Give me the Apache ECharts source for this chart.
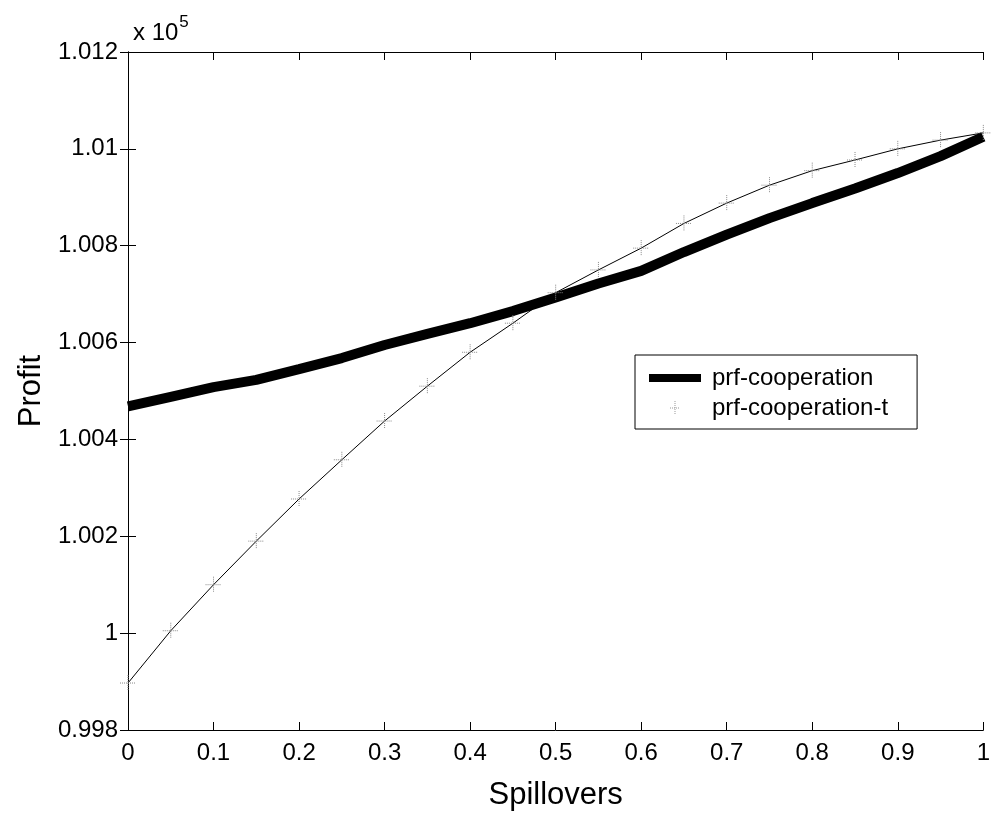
<!DOCTYPE html>
<html>
<head>
<meta charset="utf-8">
<script src="https://cdn.jsdelivr.net/npm/echarts@6/dist/echarts.min.js"></script>
<style>
html,body{margin:0;padding:0;background:#fff;}
#chart{width:993px;height:816px;}
</style>
</head>
<body>
<div id="chart"></div>
<script>
// Spillovers (x)
var spillovers = [0, 0.05, 0.1, 0.15, 0.2, 0.25, 0.3, 0.35, 0.4, 0.45, 0.5, 0.55, 0.6, 0.65, 0.7, 0.75, 0.8, 0.85, 0.9, 0.95, 1.0];
// Profit, in units of 1e5
var prfCooperation = [1.00468, 1.00488, 1.00508, 1.00523, 1.00545, 1.00568, 1.00595, 1.00618, 1.00640, 1.00665, 1.00693, 1.00722, 1.00748, 1.00787, 1.00823, 1.00857, 1.00888, 1.00918, 1.00950, 1.00985, 1.01025];
var prfCooperationT = [0.99897, 1.00005, 1.00100, 1.00190, 1.00277, 1.00358, 1.00438, 1.00510, 1.00580, 1.00640, 1.00703, 1.00750, 1.00795, 1.00846, 1.00888, 1.00925, 1.00955, 1.00977, 1.01000, 1.01018, 1.01033];
var seriesNames = ['prf-cooperation', 'prf-cooperation-t'];

function pairs(xs, ys) { return xs.map(function (x, i) { return [x, ys[i]]; }); }
var plusPath = 'path://M5,0 L5,10 M0,5 L10,5';
var font = 'Liberation Sans, Arial, sans-serif';

var chart = echarts.init(document.getElementById('chart'));
chart.setOption({
  animation: false,
  backgroundColor: '#fff',
  title: {
    text: '{a|x 10}{b|5}',
    left: 128, top: 6,
    textStyle: {
      rich: {
        a: { fontSize: 24, fontFamily: font, fontWeight: 'normal', color: '#000', padding: [10, 0, 0, 0] },
        b: { fontSize: 17, fontFamily: font, fontWeight: 'normal', color: '#000', verticalAlign: 'top', padding: [3, 0, 0, 1] }
      }
    }
  },
  grid: { left: 128, right: 3, top: 52, bottom: 83, containLabel: false },
  legend: {
    orient: 'vertical',
    left: 635, top: 355,
    backgroundColor: '#fff',
    borderColor: '#000', borderWidth: 1, borderRadius: 0,
    padding: [11, 29, 9, 14],
    itemWidth: 52, itemHeight: 14, itemGap: 6,
    textStyle: { fontSize: 24, fontFamily: font, color: '#000', padding: [0, 0, 0, 6] },
    data: [
      { name: seriesNames[0], icon: 'path://M0,0 L52,0 L52,8 L0,8 Z', itemStyle: { color: '#000' } },
      { name: seriesNames[1], icon: 'path://M25,0 L25,14 M20,7 L30,7', itemStyle: { color: 'transparent', borderColor: '#999', borderWidth: 1, borderType: 'dotted' } }
    ]
  },
  xAxis: [{
    type: 'value', min: 0, max: 1, interval: 0.1,
    name: 'Spillovers', nameLocation: 'middle', nameGap: 50,
    nameTextStyle: { fontSize: 31, fontFamily: font, color: '#000' },
    axisLine: { lineStyle: { color: '#000', width: 1 } },
    axisTick: { inside: true, length: 8, lineStyle: { color: '#000' } },
    axisLabel: { fontSize: 24, fontFamily: font, color: '#000', margin: 11,
      formatter: function (v) { return String(Number(v.toFixed(1))); } },
    splitLine: { show: false }
  }, {
    type: 'value', min: 0, max: 1, interval: 0.1, position: 'top',
    axisLine: { lineStyle: { color: '#000', width: 1 } },
    axisTick: { inside: true, length: 8, lineStyle: { color: '#000' } },
    axisLabel: { show: false }, splitLine: { show: false }
  }],
  yAxis: [{
    type: 'value', min: 0.998, max: 1.012, interval: 0.002,
    name: 'Profit', nameLocation: 'middle', nameGap: 73,
    nameTextStyle: { fontSize: 31, fontFamily: font, color: '#000' },
    axisLine: { lineStyle: { color: '#000', width: 1 } },
    axisTick: { inside: true, length: 8, lineStyle: { color: '#000' } },
    axisLabel: { fontSize: 24, fontFamily: font, color: '#000', margin: 10,
      formatter: function (v) { return String(Number(v.toFixed(3))); } },
    splitLine: { show: false }
  }, {
    type: 'value', min: 0.998, max: 1.012, interval: 0.002, position: 'right',
    axisLine: { lineStyle: { color: '#000', width: 1 } },
    axisTick: { inside: true, length: 8, lineStyle: { color: '#000' } },
    axisLabel: { show: false }, splitLine: { show: false }
  }],
  series: [{
    name: seriesNames[0], type: 'line',
    data: pairs(spillovers, prfCooperation),
    showSymbol: false, symbol: 'none',
    lineStyle: { color: '#000', width: 10 },
    itemStyle: { color: '#000' },
    z: 3
  }, {
    name: seriesNames[1], type: 'line',
    data: pairs(spillovers, prfCooperationT),
    symbol: plusPath, symbolSize: 16,
    lineStyle: { color: '#000', width: 1 },
    itemStyle: { color: 'transparent', borderColor: '#888', borderWidth: 1, borderType: 'dotted' },
    z: 4
  }]
});
</script>
</body>
</html>
